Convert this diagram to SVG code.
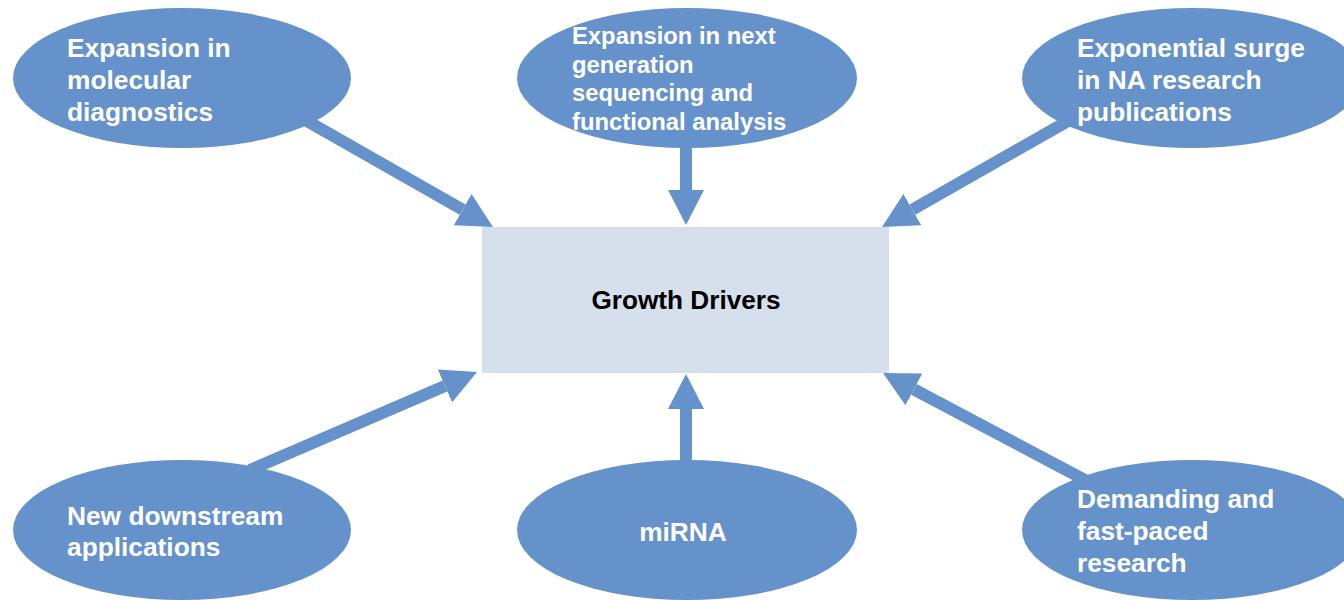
<svg xmlns="http://www.w3.org/2000/svg" width="1344" height="600" viewBox="0 0 1344 600">
  <style>
    .node ellipse { fill: #6692cb; }
    .lbl { font-family: "Liberation Sans", Arial, sans-serif; font-weight: bold; font-size: 26.3px; fill: #ffffff; }
    .lbl-s { font-size: 23.8px; }
    .conn line { stroke: #6692cb; stroke-width: 12; fill: none; marker-end: url(#head); }
    .center-txt { font-family: "Liberation Sans", Arial, sans-serif; font-weight: bold; font-size: 26.2px; fill: #000000; }
  </style>
  <defs>
    <marker id="head" markerUnits="userSpaceOnUse" markerWidth="35" markerHeight="36" viewBox="0 0 35 36" refX="0" refY="18" orient="auto">
      <path d="M0,0 L35,18 L0,36 z" fill="#6692cb"/>
    </marker>
  </defs>
  <rect width="1344" height="600" fill="#ffffff"/>
  <g id="connectors" class="conn">
    <line x1="300" y1="117" x2="462.6" y2="209.6"/>
    <line x1="686" y1="140" x2="686" y2="190"/>
    <line x1="1075" y1="117" x2="912.4" y2="209.6"/>
    <line x1="250" y1="470" x2="444.9" y2="385.9"/>
    <line x1="686" y1="470" x2="686" y2="409"/>
    <line x1="1085" y1="480" x2="913.9" y2="389.4"/>
  </g>
  <g id="center">
    <rect x="482" y="227" width="407" height="146" fill="#d6e0ec"/>
    <text class="center-txt" x="686" y="309" text-anchor="middle">Growth Drivers</text>
  </g>
  <g id="n1" class="node">
    <ellipse cx="182" cy="78" rx="169" ry="70"/>
    <text class="lbl" x="67" y="57">Expansion in</text>
    <text class="lbl" x="67" y="89">molecular</text>
    <text class="lbl" x="67" y="121">diagnostics</text>
  </g>
  <g id="n2" class="node">
    <ellipse cx="687" cy="78" rx="170" ry="70"/>
    <text class="lbl lbl-s" x="572" y="44">Expansion in next</text>
    <text class="lbl lbl-s" x="572" y="72.5">generation</text>
    <text class="lbl lbl-s" x="572" y="101">sequencing and</text>
    <text class="lbl lbl-s" x="572" y="129.5">functional analysis</text>
  </g>
  <g id="n3" class="node">
    <ellipse cx="1192" cy="78" rx="170" ry="70"/>
    <text class="lbl" x="1077" y="57">Exponential surge</text>
    <text class="lbl" x="1077" y="89">in NA research</text>
    <text class="lbl" x="1077" y="121">publications</text>
  </g>
  <g id="n4" class="node">
    <ellipse cx="182" cy="530" rx="169" ry="70"/>
    <text class="lbl" x="67" y="525">New downstream</text>
    <text class="lbl" x="67" y="556">applications</text>
  </g>
  <g id="n5" class="node">
    <ellipse cx="687" cy="530" rx="170" ry="70"/>
    <text class="lbl" x="683" y="541" text-anchor="middle">miRNA</text>
  </g>
  <g id="n6" class="node">
    <ellipse cx="1192" cy="530" rx="170" ry="70"/>
    <text class="lbl" x="1077" y="508">Demanding and</text>
    <text class="lbl" x="1077" y="540">fast-paced</text>
    <text class="lbl" x="1077" y="572">research</text>
  </g>
</svg>
